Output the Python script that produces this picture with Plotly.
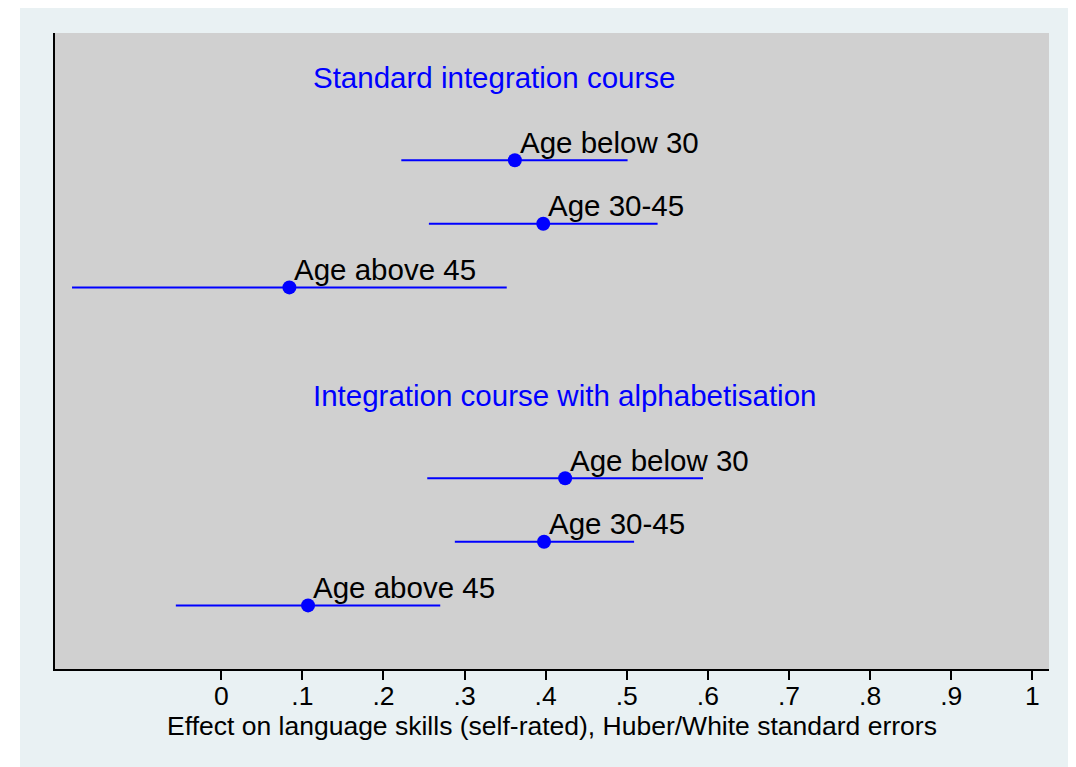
import plotly.graph_objects as go

# ---- data ----
groups = ["Standard integration course", "Integration course with alphabetisation"]
labels = ["Age below 30", "Age 30-45", "Age above 45"]
std_est = [0.362, 0.397, 0.084]
std_lo = [0.222, 0.256, -0.184]
std_hi = [0.501, 0.538, 0.352]
alp_est = [0.424, 0.398, 0.107]
alp_lo = [0.254, 0.288, -0.056]
alp_hi = [0.594, 0.509, 0.270]
tick_vals = [0, 0.1, 0.2, 0.3, 0.4, 0.5, 0.6, 0.7, 0.8, 0.9, 1.0]
tick_text = ["0", ".1", ".2", ".3", ".4", ".5", ".6", ".7", ".8", ".9", "1"]
x_title = "Effect on language skills (self-rated), Huber/White standard errors"

# row positions (rows counted from top): header, 3 rows, gap, header, 3 rows
std_rows = [2, 3, 4]
alp_rows = [7, 8, 9]
header_rows = [1, 6]
header_x = 0.114

BLUE = "#0000ff"
FONT = "Liberation Sans, Arial, sans-serif"

est = std_est + alp_est
lo = std_lo + alp_lo
hi = std_hi + alp_hi
rows = std_rows + alp_rows
lab = labels + labels

fig = go.Figure()
fig.add_trace(go.Scatter(
    x=est, y=rows, mode="markers",
    marker=dict(color=BLUE, size=14, line=dict(width=0)),
    error_x=dict(type="data", symmetric=False,
                 array=[h - e for h, e in zip(hi, est)],
                 arrayminus=[e - l for e, l in zip(est, lo)],
                 color=BLUE, thickness=2, width=0),
    showlegend=False, hoverinfo="skip",
))

annotations = []
for x, y, t in zip(est, rows, lab):
    annotations.append(dict(x=x, y=y, xref="x", yref="y", text=t, showarrow=False,
                            xanchor="left", yanchor="middle", xshift=3, yshift=18,
                            font=dict(family=FONT, size=29.5, color="black")))
for y, t in zip(header_rows, groups):
    annotations.append(dict(x=header_x, y=y, xref="x", yref="y", text=t, showarrow=False,
                            xanchor="left", yanchor="middle", xshift=-3, yshift=19,
                            font=dict(family=FONT, size=29.5, color=BLUE)))

# page has an 8px body margin; figure sized to fit the window
W, H = 1068, 759
ML, MR, MT, MB = 47, 27, 25, 98
pw = W - ML - MR
ph = H - MT - MB

shapes = [
    # white strip at the left of the page
    dict(type="rect", xref="paper", yref="paper",
         x0=-ML / pw - 0.01, x1=(12 - ML) / pw, y0=-MB / ph - 0.01, y1=(H - MB) / ph + 0.01,
         fillcolor="white", line=dict(width=0), layer="above"),
]

fig.update_layout(
    width=W, height=H,
    margin=dict(l=ML, r=MR, t=MT, b=MB, pad=0),
    paper_bgcolor="#e9f1f3",
    plot_bgcolor="#d0d0d0",
    font=dict(family=FONT, size=26.5, color="black"),
    annotations=annotations,
    shapes=shapes,
    xaxis=dict(range=[-0.205, 1.0206], tickvals=tick_vals, ticktext=tick_text,
               showgrid=False, zeroline=False, showline=True, linecolor="black", linewidth=1.5,
               ticks="outside", ticklen=9, tickwidth=1.5, tickcolor="black",
               ticklabelstandoff=-7,
               tickfont=dict(family=FONT, size=26.5, color="black"),
               title=dict(text=x_title, font=dict(family=FONT, size=26.5, color="black"), standoff=4)),
    yaxis=dict(range=[10, 0], showgrid=False, zeroline=False, showticklabels=False,
               showline=True, linecolor="black", linewidth=1.5, ticks=""),
)

fig.write_html("out.html")
